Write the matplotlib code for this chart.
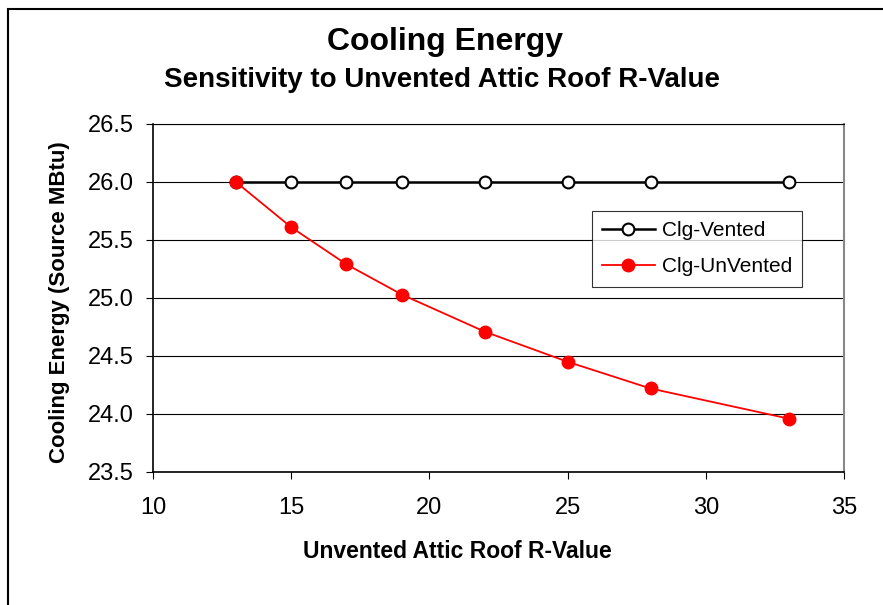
import matplotlib
matplotlib.use("Agg")
import matplotlib.pyplot as plt
from matplotlib.patches import Rectangle

plt.rcParams['font.family'] = ['Liberation Sans', 'DejaVu Sans']

r_values = [13, 15, 17, 19, 22, 25, 28, 33]
clg_vented = [26.0, 26.0, 26.0, 26.0, 26.0, 26.0, 26.0, 26.0]
clg_unvented = [26.0, 25.61, 25.29, 25.03, 24.71, 24.45, 24.22, 23.96]

x_ticks = [10, 15, 20, 25, 30, 35]
y_ticks = [23.5, 24.0, 24.5, 25.0, 25.5, 26.0, 26.5]

W, H = 883, 605
fig = plt.figure(figsize=(W / 100, H / 100), dpi=100)

# outer chart border
fig.patches.append(Rectangle((8 / W, -0.1), 1.2, 1.1 - 9 / H, transform=fig.transFigure,
                             fill=False, edgecolor='black', linewidth=1.5, zorder=0))

ax = fig.add_axes([153 / W, 1 - 472 / H, 691 / W, 348 / H])
ax.set_xlim(10, 35)
ax.set_ylim(23.5, 26.5)
ax.set_xticks(x_ticks)
ax.set_yticks(y_ticks)
ax.set_yticklabels([f"{v:.1f}" for v in y_ticks])
ax.yaxis.grid(True, color='black', linewidth=0.8)
ax.set_axisbelow(True)

for s in ['left', 'bottom']:
    ax.spines[s].set_color('black')
    ax.spines[s].set_linewidth(1.2)
ax.spines['top'].set_color('black')
ax.spines['top'].set_linewidth(0.8)
ax.spines['right'].set_color('#888888')
ax.spines['right'].set_linewidth(1.5)

ax.tick_params(axis='y', direction='out', length=5, width=0.8, labelsize=17, pad=9)
ax.tick_params(axis='x', direction='out', length=5, width=0.8, labelsize=17, pad=13)

ax.plot(r_values, clg_vented, color='black', linewidth=1.8, marker='o', markersize=8.5,
        markerfacecolor='white', markeredgecolor='black', markeredgewidth=1.5,
        label='Clg-Vented', zorder=3)
ax.plot(r_values, clg_unvented, color='red', linewidth=1.3, marker='o', markersize=9,
        markerfacecolor='red', markeredgecolor='red', label='Clg-UnVented', zorder=4)

leg = ax.legend(loc='upper left', bbox_to_anchor=((592 - 153) / 691, (472 - 211) / 348),
                fontsize=15, frameon=True, fancybox=False, borderaxespad=0,
                handlelength=2.5, borderpad=0.5, labelspacing=0.8, handletextpad=0.35)
leg.get_frame().set_edgecolor('black')
leg.get_frame().set_linewidth(0.8)

fig.text(445 / W, 1 - 42 / H, 'Cooling Energy', ha='center', va='center',
         fontsize=23, fontweight='bold')
fig.text(442 / W, 1 - 80 / H, 'Sensitivity to Unvented Attic Roof R-Value', ha='center',
         va='center', fontsize=20, fontweight='bold')
fig.text(457 / W, 1 - 551 / H, 'Unvented Attic Roof R-Value', ha='center', va='center',
         fontsize=16.5, fontweight='bold')
fig.text(60 / W, 1 - 302 / H, 'Cooling Energy (Source MBtu)', ha='center', va='center',
         rotation=90, fontsize=16, fontweight='bold')

fig.savefig('out.png', dpi=100)
